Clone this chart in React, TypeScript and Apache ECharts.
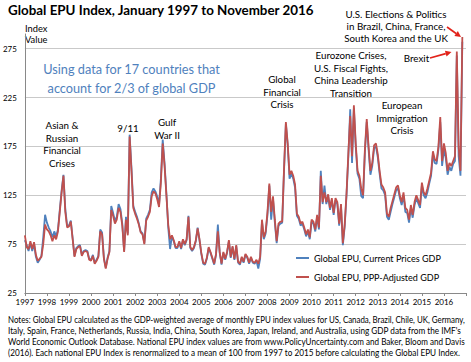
import React, { useEffect, useRef } from 'react';
import * as echarts from 'echarts';

// ---- Data (Jan 1997 .. Nov 2016, monthly) ----
const yearLabels = ['1997','1998','1999','2000','2001','2002','2003','2004','2005','2006','2007','2008','2009','2010','2011','2012','2013','2014','2015','2016'];

const pppAdjusted = [
  84, 72, 70, 78, 70, 77, 64, 58, 60, 62, 75, 95,
  90, 88, 84, 78, 84, 80, 88, 108, 128, 145, 108, 92,
  93, 98, 80, 62, 70, 72, 73, 63, 67, 68, 67, 59,
  58, 63, 55, 58, 62, 88, 85, 60, 50, 60, 67, 110,
  104, 96, 100, 112, 108, 94, 67, 100, 84, 185, 150, 112,
  106, 101, 95, 87, 85, 75, 99, 103, 108, 124, 129, 127,
  121, 113, 138, 178, 155, 125, 95, 80, 84, 79, 72, 72,
  78, 71, 80, 75, 80, 103, 72, 69, 72, 79, 91, 80,
  66, 56, 55, 61, 72, 67, 61, 55, 65, 88, 67, 55,
  67, 60, 67, 79, 62, 73, 60, 74, 57, 55, 62, 57,
  65, 62, 56, 62, 57, 56, 59, 55, 62, 100, 82, 88,
  108, 137, 108, 124, 100, 78, 96, 98, 98, 152, 200, 178,
  146, 150, 145, 136, 106, 103, 96, 98, 92, 85, 90, 82,
  100, 98, 90, 105, 92, 145, 118, 128, 118, 126, 112, 122,
  107, 122, 118, 96, 116, 76, 95, 127, 168, 206, 165, 217,
  178, 150, 145, 132, 125, 172, 203, 175, 150, 158, 176, 178,
  167, 150, 136, 133, 128, 106, 103, 112, 119, 126, 133, 135,
  125, 118, 128, 112, 110, 100, 115, 105, 118, 125, 120, 115,
  138, 128, 125, 132, 140, 148, 170, 162, 160, 175, 205, 160,
  178, 168, 150, 158, 155, 160, 165, 272, 175, 150, 287
];

const currentPrices = [
  79, 74, 68, 76, 68, 75, 62, 56, 59, 63, 82, 105,
  97, 92, 88, 82, 88, 83, 90, 110, 130, 146, 111, 94,
  94, 99, 81, 63, 71, 73, 74, 64, 68, 69, 68, 60,
  59, 64, 56, 59, 63, 90, 87, 61, 51, 61, 68, 114,
  107, 99, 103, 116, 111, 96, 68, 103, 86, 187, 153, 114,
  108, 103, 96, 88, 86, 76, 101, 105, 110, 128, 132, 129,
  124, 115, 142, 182, 158, 127, 92, 70, 83, 78, 71, 71,
  77, 70, 79, 74, 79, 104, 71, 68, 71, 78, 92, 79,
  65, 55, 54, 60, 71, 66, 60, 54, 64, 95, 66, 54,
  66, 59, 66, 78, 61, 72, 59, 73, 56, 54, 61, 56,
  64, 61, 55, 61, 56, 55, 58, 50, 60, 98, 80, 86,
  105, 135, 100, 121, 97, 76, 94, 96, 97, 150, 198, 176,
  142, 147, 142, 133, 104, 101, 94, 96, 90, 83, 88, 80,
  98, 96, 88, 103, 90, 150, 116, 135, 116, 124, 110, 120,
  105, 120, 116, 94, 114, 74, 93, 125, 165, 213, 158, 214,
  175, 147, 142, 124, 122, 169, 200, 172, 146, 155, 173, 175,
  164, 147, 132, 130, 125, 103, 100, 108, 116, 123, 130, 132,
  122, 115, 125, 108, 107, 97, 112, 102, 115, 122, 117, 112,
  135, 125, 122, 128, 137, 145, 167, 158, 157, 172, 200, 155,
  172, 163, 146, 154, 150, 157, 160, 268, 165, 145, 282
];

const seriesNames = ['Global EPU, Current Prices GDP', 'Global EPU, PPP-Adjusted GDP'];

const notesLines = [
  'Notes: Global EPU calculated as the GDP-weighted average of monthly EPU index values for US, Canada, Brazil, Chile, UK, Germany,',
  "Italy, Spain, France, Netherlands, Russia, India, China, South Korea, Japan, Ireland, and Australia, using GDP data from the IMF's",
  'World Economic Outlook Database. National EPU index values are from www.PolicyUncertainty.com and Baker, Bloom and Davis',
  '(2016). Each national EPU Index is renormalized to a mean of 100 from 1997 to 2015 before calculating the Global EPU Index.'
];

const FONT = 'Lato';
const BLUE = '#4F81BD';
const RED = '#C0504D';
const ARROW = '#E2231A';

export default function App() {
  const ref = useRef<HTMLDivElement>(null);

  useEffect(() => {
    if (!ref.current) return;
    const chart = echarts.init(ref.current, undefined, { renderer: 'svg' });

    const ctx = document.createElement('canvas').getContext('2d') as CanvasRenderingContext2D;
    const measure = (t: string, size: number, weight = 'normal') => {
      ctx.font = `${weight} ${size}px ${FONT}`;
      return ctx.measureText(t).width;
    };
    const fit = (t: string, w: number, weight = 'normal') => (100 * w) / measure(t, 100, weight);

    const titleSize = fit('Global EPU Index, January 1997 to November 2016', 307, 'bold');
    const annSize = fit('Eurozone Crises,', 71);
    const blueSize = fit('Using data for 17 countries that', 177);
    const axisSize = fit('2016', 18.5);
    const legendSize = fit(seriesNames[0], 127);
    const noteSize = 8.6;

    const txt = (text: string, x: number, y: number, size: number, opts: any = {}) => ({
      type: 'text',
      x,
      y,
      scaleX: opts.scaleX ?? 1,
      silent: true,
      style: {
        text,
        fill: opts.fill ?? '#000',
        fontSize: size,
        fontFamily: FONT,
        fontWeight: opts.weight ?? 'normal',
        align: opts.align ?? 'center',
        textAlign: opts.align ?? 'center',
        verticalAlign: 'middle',
        textVerticalAlign: 'middle'
      }
    });

    const block = (lines: string[], cx: number, y0: number, dy: number, size: number, opts: any = {}) =>
      lines.map((l, i) => txt(l, cx, y0 + i * dy, size, opts));

    const arrow = (x1: number, y1: number, x2: number, y2: number) => {
      const ang = Math.atan2(y2 - y1, x2 - x1);
      const L = 6, W = 3;
      const bx = x2 - L * Math.cos(ang), by = y2 - L * Math.sin(ang);
      const px = -Math.sin(ang) * W, py = Math.cos(ang) * W;
      return [
        { type: 'line', silent: true, shape: { x1, y1, x2: bx, y2: by }, style: { stroke: ARROW, lineWidth: 1.6 } },
        { type: 'polygon', silent: true, shape: { points: [[x2, y2], [bx + px, by + py], [bx - px, by - py]] }, style: { fill: ARROW } }
      ];
    };

    const notes = notesLines.map((l, i) => {
      const targets = [458, 454, 457, 452];
      const sx = targets[i] / measure(l, noteSize);
      return txt(l, 8, 320 + i * 11, noteSize, { align: 'left', scaleX: sx });
    });

    const graphics: any[] = [
      txt('Global EPU Index, January 1997 to November 2016', 8, 10, titleSize, { align: 'left', weight: 'bold' }),
      ...block(['Index', 'Value'], 25, 28, 11, annSize * 0.95, { align: 'left' }),
      ...block(['Using data for 17 countries that', 'account for 2/3 of global GDP'], 131.5, 69, 19, blueSize, { fill: BLUE }),
      ...block(['Asian &', 'Russian', 'Financial', 'Crises'], 62, 125, 12.5, annSize),
      txt('9/11', 128, 128, annSize),
      ...block(['Gulf', 'War II'], 167, 122, 13, annSize),
      ...block(['Global', 'Financial', 'Crisis'], 282, 79, 12.5, annSize),
      ...block(['Eurozone Crises,', 'U.S. Fiscal Fights,', 'China Leadership', 'Transition'], 351, 55, 12.5, annSize),
      ...block(['U.S. Elections & Politics', 'in Brazil, China, France,', 'South Korea and the UK'], 396, 14, 12, annSize),
      txt('Brexit', 416.5, 58, annSize),
      ...block(['European', 'Immigration', 'Crisis'], 402, 105, 12.5, annSize),
      ...arrow(447, 27, 461, 37),
      ...arrow(430, 58, 451.5, 52),
      ...notes
    ];

    chart.setOption({
      animation: false,
      textStyle: { fontFamily: FONT },
      grid: { left: 22, right: 5, top: 34, bottom: 69, containLabel: false },
      legend: {
        orient: 'vertical',
        left: 296,
        top: 252,
        padding: 0,
        itemGap: 7,
        itemWidth: 13,
        itemHeight: 2,
        icon: 'rect',
        data: seriesNames,
        textStyle: { fontSize: legendSize, fontFamily: FONT, color: '#000', lineHeight: 12 }
      },
      xAxis: {
        type: 'value',
        min: 0,
        max: 240,
        interval: 12,
        axisLine: { show: true, lineStyle: { color: '#898989', width: 1 } },
        axisTick: { show: true, length: 3, lineStyle: { color: '#898989' } },
        splitLine: { show: false },
        axisLabel: {
          margin: 5,
          fontSize: axisSize,
          fontFamily: FONT,
          color: '#000',
          formatter: (v: number) => yearLabels[Math.round(v / 12)] ?? ''
        }
      },
      yAxis: {
        type: 'value',
        min: 25,
        max: 290,
        interval: 25,
        axisLine: { show: true, lineStyle: { color: '#898989', width: 1 } },
        axisTick: { show: false },
        splitLine: { show: true, lineStyle: { color: ['#c9c9c9', 'rgba(0,0,0,0)'], width: 1 } },
        axisLabel: {
          margin: 8,
          fontSize: axisSize,
          fontFamily: FONT,
          color: '#000',
          formatter: (v: number) => ((v - 25) % 50 === 0 && v <= 275 ? String(v) : '')
        }
      },
      series: [
        {
          name: seriesNames[0],
          type: 'line',
          showSymbol: false,
          symbol: 'none',
          data: currentPrices.map((v, i) => [i, v]),
          lineStyle: { color: BLUE, width: 1.8 },
          itemStyle: { color: BLUE }
        },
        {
          name: seriesNames[1],
          type: 'line',
          showSymbol: false,
          symbol: 'none',
          data: pppAdjusted.map((v, i) => [i, v]),
          lineStyle: { color: RED, width: 1.8 },
          itemStyle: { color: RED }
        }
      ],
      graphic: graphics
    });

    return () => chart.dispose();
  }, []);

  return <div ref={ref} style={{ position: 'absolute', left: 0, top: 0, width: 471, height: 362, background: '#fff' }} />;
}
